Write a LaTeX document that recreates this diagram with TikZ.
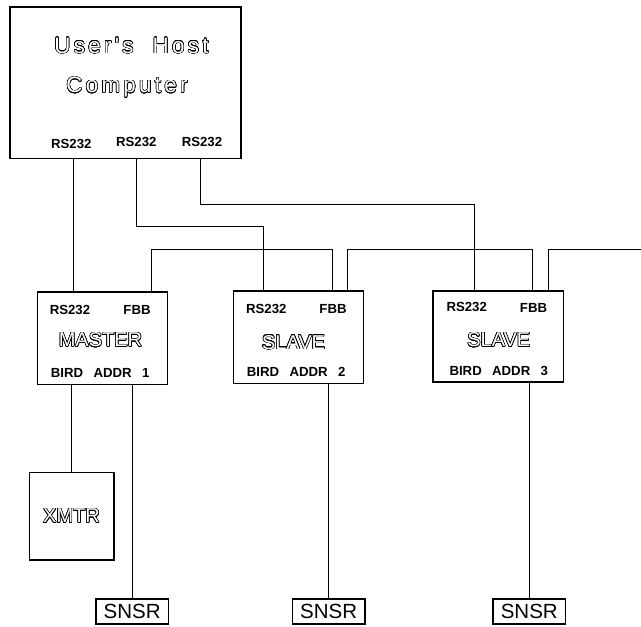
\documentclass[tikz,border=0pt]{standalone}
\usepackage{fontspec}
\setmainfont{Liberation Sans}
\newfontfamily\hostfont[LetterSpace=15]{Liberation Sans}
\usepackage[copies]{contour}
\contourlength{0.55pt}
\contournumber{24}
\newcommand{\hollowtxt}[1]{\contour{black}{\textcolor{white}{#1}}}
\begin{document}
\begin{tikzpicture}[x=1pt,y=-1pt,
  box/.style={draw,line width=1.6pt,inner sep=0pt},
  conn/.style={line width=0.9pt},
  lbl/.style={font=\bfseries\fontsize{13.2}{13.2}\selectfont,anchor=base,inner sep=0pt},
  big/.style={font=\fontsize{20}{20}\selectfont,anchor=base,inner sep=0pt},
  hosttxt/.style={font=\hostfont\fontsize{22.3}{22.3}\selectfont,anchor=base,inner sep=0pt}]
\useasboundingbox (0,0) rectangle (641,627);
% boxes
\node[box,minimum width=231pt,minimum height=151.5pt] (host) at (125.5,82.75) {};
\node[box,minimum width=130pt,minimum height=92.6pt] (master) at (102.3,338) {};
\node[box,minimum width=130pt,minimum height=92.6pt] (slavetwo) at (298.3,337) {};
\node[box,minimum width=130.6pt,minimum height=91pt] (slavethree) at (498,336.2) {};
\node[box,minimum width=84.4pt,minimum height=87.7pt,font=\fontsize{20}{20}\selectfont] (xmtr) at (71.5,516.2) {\hollowtxt{XMTR}};
\node[box,minimum width=72.7pt,minimum height=24.5pt,font=\fontsize{20.5}{20.5}\selectfont] (snsrone) at (132.2,611.5) {SNSR};
\node[box,minimum width=72.7pt,minimum height=24.5pt,font=\fontsize{20.5}{20.5}\selectfont] (snsrtwo) at (328.7,611.5) {SNSR};
\node[box,minimum width=72.7pt,minimum height=24.5pt,font=\fontsize{20.5}{20.5}\selectfont] (snsrthree) at (529.3,611.5) {SNSR};
% host texts
\node[hosttxt] (hostA) at (131.5,53.3) {\hollowtxt{User's\ \ Host}};
\node[hosttxt] (hostB) at (127,92.7) {\hollowtxt{Computer}};
\node[lbl] (hrsA) at (71.3,148.3) {RS232};
\node[lbl] (hrsB) at (136.3,146.7) {RS232};
\node[lbl] (hrsC) at (202,146.7) {RS232};
% master texts
\node[lbl] (mrs) at (70,314) {RS232};
\node[lbl] (mfbb) at (137,314.3) {FBB};
\node[big] (mname) at (100.5,346.7) {\hollowtxt{MASTER}};
\node[lbl] (maddr) at (100.2,377.7) {BIRD\hspace{10.4pt}ADDR\hspace{10.4pt}1};
% slave 2 texts
\node[lbl] (srsB) at (266.3,313.3) {RS232};
\node[lbl] (sfbbB) at (333,313.3) {FBB};
\node[big] (snameB) at (293.5,349) {\hollowtxt{SLAVE}};
\node[lbl] (saddrB) at (296.2,376.7) {BIRD\hspace{10.4pt}ADDR\hspace{10.4pt}2};
% slave 3 texts
\node[lbl] (srsC) at (466.7,311.7) {RS232};
\node[lbl] (sfbbC) at (533.5,312) {FBB};
\node[big] (snameC) at (498.8,346.7) {\hollowtxt{SLAVE}};
\node[lbl] (saddrC) at (498.8,375) {BIRD\hspace{10.4pt}ADDR\hspace{10.4pt}3};
% bend coordinates
\coordinate (xa) at (73,0);
\coordinate (b1) at (136,226);
\coordinate (b2) at (263,226);
\coordinate (b3) at (200,204.5);
\coordinate (b4) at (474.5,204.5);
\coordinate (f1) at (151,249);
\coordinate (f2) at (332,249);
\coordinate (f3) at (347,249);
\coordinate (f4) at (532.5,249);
\coordinate (f5) at (548,249);
\coordinate (fend) at (641,249);
% connectors
\draw[conn] (host.south -| xa) -- (master.north -| xa);
\draw[conn] (host.south -| b1) -- (b1) -- (b2) -- (slavetwo.north -| b2);
\draw[conn] (host.south -| b3) -- (b3) -- (b4) -- (slavethree.north -| b4);
\draw[conn] (master.north -| f1) -- (f1) -- (f2) -- (slavetwo.north -| f2);
\draw[conn] (slavetwo.north -| f3) -- (f3) -- (f4) -- (slavethree.north -| f4);
\draw[conn] (slavethree.north -| f5) -- (f5) -- (fend);
\draw[conn] (master.south -| xmtr.north) -- (xmtr.north);
\draw[conn] (master.south -| snsrone.north) -- (snsrone.north);
\draw[conn] (slavetwo.south -| snsrtwo.north) -- (snsrtwo.north);
\draw[conn] (slavethree.south -| snsrthree.north) -- (snsrthree.north);
\end{tikzpicture}
\end{document}
